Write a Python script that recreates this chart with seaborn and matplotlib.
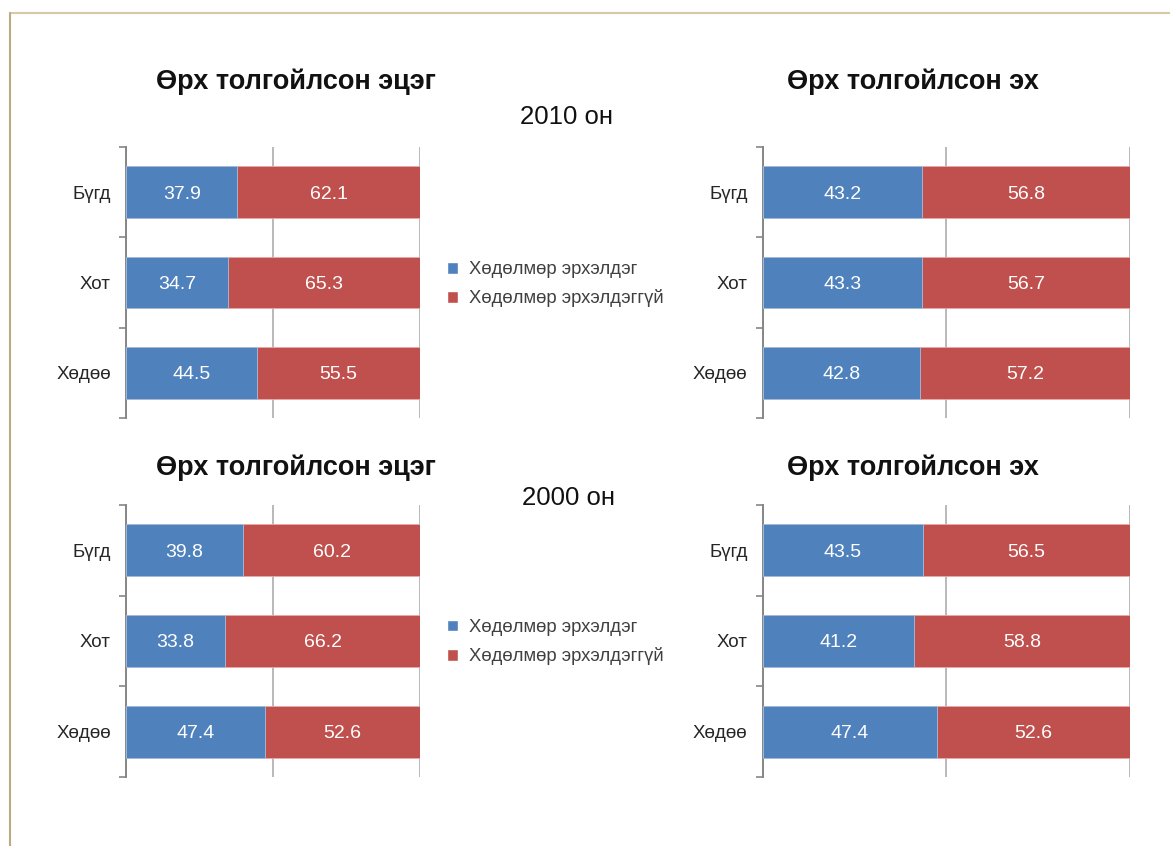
import pandas as pd
import seaborn as sns
import matplotlib.pyplot as plt
from matplotlib.patches import Patch
from matplotlib.lines import Line2D

# categories and series
places = ["Бүгд", "Хот", "Хөдөө"]
series_names = ["Хөдөлмөр эрхэлдэг", "Хөдөлмөр эрхэлдэггүй"]

father_2010_emp = [37.9, 34.7, 44.5]
father_2010_unemp = [62.1, 65.3, 55.5]
mother_2010_emp = [43.2, 43.3, 42.8]
mother_2010_unemp = [56.8, 56.7, 57.2]
father_2000_emp = [39.8, 33.8, 47.4]
father_2000_unemp = [60.2, 66.2, 52.6]
mother_2000_emp = [43.5, 41.2, 47.4]
mother_2000_unemp = [56.5, 58.8, 52.6]

BLUE = "#4F81BD"
RED = "#C0504D"

sns.set_style("white")
plt.rcParams['font.family'] = ['Liberation Sans', 'DejaVu Sans']


def stacked_panel(ax, emp, unemp):
    df = pd.DataFrame({"place": places, "emp": emp, "unemp": unemp})
    df["total"] = df["emp"] + df["unemp"]
    sns.barplot(data=df, y="place", x="total", color=RED, width=0.575,
                orient="h", saturation=1, edgecolor="#e9a9a7", linewidth=0.6,
                ax=ax, zorder=2)
    sns.barplot(data=df, y="place", x="emp", color=BLUE, width=0.575,
                orient="h", saturation=1, edgecolor="#a9c0df", linewidth=0.6,
                ax=ax, zorder=3)
    for i, row in df.iterrows():
        ax.text(row["emp"] / 2, i, f"{row['emp']:.1f}", color="white",
                ha="center", va="center_baseline", fontsize=14, zorder=4)
        ax.text(row["emp"] + row["unemp"] / 2, i, f"{row['unemp']:.1f}",
                color="white", ha="center", va="center_baseline", fontsize=14,
                zorder=4)

    ax.set_xlim(0, 100)
    ax.set_ylim(2.5, -0.5)
    ax.set_xticks([0, 50, 100])
    ax.set_xticklabels([])
    ax.tick_params(axis="x", length=0)
    ax.xaxis.grid(True, color="#a6a6a6", linewidth=1.1)
    ax.set_axisbelow(True)
    ax.set_xlabel("")
    ax.set_ylabel("")
    ax.set_yticks([0, 1, 2])
    ax.set_yticklabels(places, fontsize=13.5, color="#262626")
    ax.set_yticks([-0.5, 0.5, 1.5, 2.5], minor=True)
    ax.tick_params(axis="y", which="major", left=False, length=0, pad=11)
    ax.tick_params(axis="y", which="minor", left=True, length=5, width=1.2,
                   color="#868686", direction="out")
    for side in ["top", "right", "bottom"]:
        ax.spines[side].set_visible(False)
    ax.spines["left"].set_color("#868686")
    ax.spines["left"].set_linewidth(1.4)


fig = plt.figure(figsize=(11.7, 8.46), dpi=100)

ax_tl = fig.add_axes([0.1077, 0.5059, 0.2513, 0.3203])
ax_tr = fig.add_axes([0.6521, 0.5059, 0.3137, 0.3203])
ax_bl = fig.add_axes([0.1077, 0.0816, 0.2513, 0.3215])
ax_br = fig.add_axes([0.6521, 0.0816, 0.3137, 0.3215])

stacked_panel(ax_tl, father_2010_emp, father_2010_unemp)
stacked_panel(ax_tr, mother_2010_emp, mother_2010_unemp)
stacked_panel(ax_bl, father_2000_emp, father_2000_unemp)
stacked_panel(ax_br, mother_2000_emp, mother_2000_unemp)

title_kw = dict(fontsize=19.5, fontweight="bold", ha="center", va="center",
                color="#111111")
fig.text(0.2526, 0.903, "Өрх толгойлсон эцэг", **title_kw)
fig.text(0.780, 0.903, "Өрх толгойлсон эх", **title_kw)
fig.text(0.2526, 0.447, "Өрх толгойлсон эцэг", **title_kw)
fig.text(0.780, 0.447, "Өрх толгойлсон эх", **title_kw)

year_kw = dict(fontsize=18.5, ha="center", va="center", color="#111111")
fig.text(0.4845, 0.8615, "2010 он", **year_kw)
fig.text(0.4860, 0.4113, "2000 он", **year_kw)

handles = [Patch(facecolor=BLUE, label=series_names[0]),
           Patch(facecolor=RED, label=series_names[1])]
for y in [0.664, 0.241]:
    fig.legend(handles=handles, loc="center left", bbox_to_anchor=(0.368, y),
               frameon=False, fontsize=13.3, handlelength=0.6, handleheight=0.6,
               handletextpad=0.6, labelspacing=0.6, labelcolor="#404040")

# page frame
fig.add_artist(Line2D([10 / 1170, 1], [1 - 13 / 846, 1 - 13 / 846],
                      color="#d9c8a5", linewidth=1.5))
fig.add_artist(Line2D([10 / 1170, 10 / 1170], [0, 1 - 13 / 846],
                      color="#b9aa7f", linewidth=1.5))

plt.savefig("out.png", dpi=100)
